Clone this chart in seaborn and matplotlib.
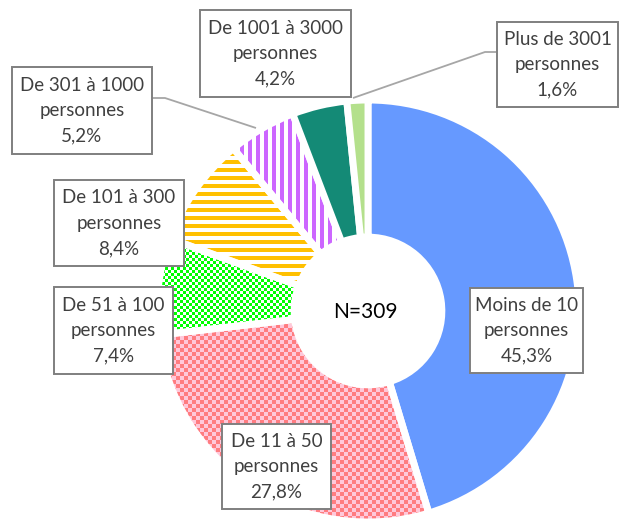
import numpy as np
import matplotlib
matplotlib.use("Agg")
import matplotlib.pyplot as plt
import seaborn as sns
from matplotlib.patches import Rectangle

sns.set_theme(style="white")
plt.rcParams['font.family'] = ['Lato', 'DejaVu Sans']

# ---- data ----
categories = ["Moins de 10\npersonnes", "De 11 à 50\npersonnes", "De 51 à 100\npersonnes",
              "De 101 à 300\npersonnes", "De 301 à 1000\npersonnes", "De 1001 à 3000\npersonnes",
              "Plus de 3001\npersonnes"]
shares = [45.3, 27.8, 7.4, 8.4, 5.2, 4.2, 1.6]
pct_labels = ["45,3%", "27,8%", "7,4%", "8,4%", "5,2%", "4,2%", "1,6%"]
center_label = "N=309"

# ---- styles ----
colors = ["#6699FF", "#FF7C80", "#00FF00", "#FFC000", "#CC66FF", "#148A76", "#B4E08C"]
patterns = [None, ("checker", "#FF7C80", "#FFC8DA", 4), ("checker", "#00FF00", "#FFFFFF", 3),
            ("hstripe", "#FFC000", "#FFFFFF", 8), ("vstripe", "#CC66FF", "#FFFFFF", 8), None, None]

W, H = 619, 520
S = 211.0          # pixels per data unit
CX, CY = 368, 311  # pie centre in pixels (from top-left)

# label boxes in pixels: left, top, right, bottom
boxes = [(470, 288, 583, 373), (222, 424, 331, 509), (54, 287, 173, 374),
         (54, 180, 184, 266), (12, 67, 152, 154), (200, 10, 351, 97), (497, 22, 618, 107)]
leaders = {4: [(152, 98), (165, 98), (256, 128)],
           6: [(497, 52), (485, 52), (353, 98)]}

def px(x, y):
    return (x - CX) / S, (CY - y) / S

fig = plt.figure(figsize=(W / 100, H / 100), dpi=100)
ax = fig.add_axes([0, 0, 1, 1])

wedges, _ = ax.pie(shares, colors=colors, startangle=90, counterclock=False, radius=1.0,
                   wedgeprops=dict(width=0.65, edgecolor="white", linewidth=5))
x0, x1 = -CX / S, (W - CX) / S
y0, y1 = -(H - CY) / S, CY / S
ax.set_xlim(x0, x1)
ax.set_ylim(y0, y1)
ax.set_aspect("auto")
ax.axis("off")

rows, cols = np.mgrid[0:H, 0:W]

def hex2rgb(h):
    return np.array(matplotlib.colors.to_rgb(h))

for w, pat in zip(wedges, patterns):
    if pat is None:
        continue
    kind, c1, c2, s = pat
    if kind == "checker":
        mask = ((rows // s) + (cols // s)) % 2 == 0
    elif kind == "hstripe":
        mask = (rows % s) < s / 2
    else:
        mask = (cols % s) < s / 2
    img = np.where(mask[..., None], hex2rgb(c1), hex2rgb(c2))
    w.set_facecolor("none")
    im = ax.imshow(img, extent=(x0, x1, y0, y1), origin="upper", interpolation="nearest",
                   zorder=w.get_zorder() - 0.5, aspect="auto")
    im.set_clip_path(w)

ax.set_xlim(x0, x1)
ax.set_ylim(y0, y1)

# leader lines
for i, pts in leaders.items():
    xs, ys = zip(*[px(*p) for p in pts])
    ax.plot(xs, ys, color="#A6A6A6", lw=1.3, zorder=5, solid_capstyle="butt")

# label boxes
for i, (l, t, r, b) in enumerate(boxes):
    lx, ty = px(l, t)
    rx, by = px(r, b)
    ax.add_patch(Rectangle((lx, by), rx - lx, ty - by, facecolor="white",
                           edgecolor="#7F7F7F", lw=1.4, zorder=6))
    ax.text((lx + rx) / 2, (ty + by) / 2, categories[i] + "\n" + pct_labels[i],
            ha="center", va="center", fontsize=13.5, color="#404040",
            linespacing=1.6, zorder=7)

ax.text(*px(365, 312), center_label, ha="center", va="center", fontsize=15,
        color="black", zorder=7)

fig.savefig("out.png", dpi=100)
